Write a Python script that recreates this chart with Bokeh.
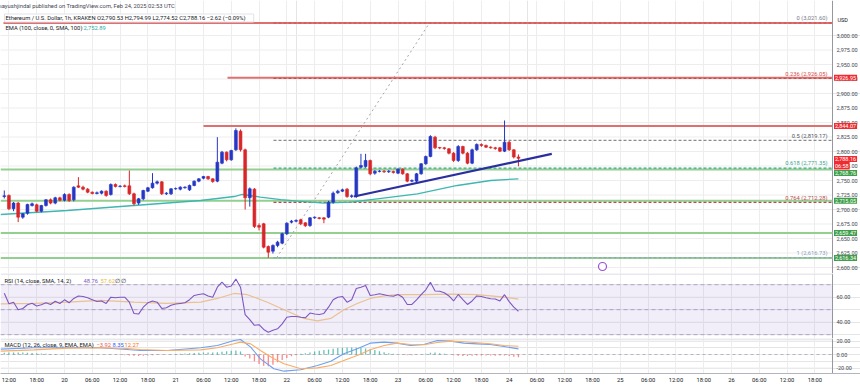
from bokeh.plotting import figure
from bokeh.models import (Range1d, FixedTicker, Label, LinearAxis, Grid,
                          ColumnDataSource, BoxAnnotation)
from bokeh.layouts import column
from bokeh.embed import file_html
from bokeh.resources import INLINE

# ---------------- data ----------------
# hours since Feb 20 00:00 UTC, 1h candles
hours = list(range(-13, 99))
opens = [2722.4, 2724.2, 2701.2, 2711.0, 2686.8, 2693.7, 2706.9, 2708.1, 2697.1, 2706.9, 2716.7, 2711.0, 2720.1,
         2716.0, 2725.9, 2716.7, 2740.8, 2738.5, 2735.1, 2729.9, 2727.6, 2728.2, 2731.6,
         2725.9, 2743.1, 2739.7, 2740.8, 2740.8, 2727.0, 2711.0, 2718.4, 2731.6, 2737.4,
         2745.4, 2747.7, 2727.0, 2727.0, 2735.6, 2735.1, 2737.4, 2733.9, 2741.4, 2748.9,
         2754.0, 2756.9, 2752.9, 2748.9, 2779.9, 2798.9, 2785.6, 2802.9, 2835.1, 2802.9,
         2720.1, 2735.1, 2672.4, 2675.3, 2636.2, 2628.2, 2638.0, 2642.0, 2658.1, 2678.2,
         2679.9, 2682.2, 2677.0, 2672.4, 2685.6, 2685.6, 2685.6, 2686.8, 2712.7, 2728.8,
         2731.6, 2735.1, 2722.4, 2722.4, 2773.0, 2774.2, 2784.5, 2762.7, 2765.5, 2766.1,
         2765.0, 2765.5, 2762.7, 2769.6, 2761.5, 2748.9, 2748.9, 2761.5, 2778.8, 2791.4,
         2824.7, 2806.8, 2806.3, 2804.6, 2797.1, 2784.5, 2808.6, 2797.1, 2779.9, 2802.9,
         2812.1, 2810.4, 2807.5, 2806.3, 2806.3, 2800.6, 2816.1, 2802.9, 2790.53]
highs = [2732.8, 2726.0, 2713.0, 2713.0, 2694.0, 2710.0, 2712.0, 2710.0, 2708.0, 2718.0, 2719.0, 2722.0, 2722.0,
         2728.0, 2728.0, 2740.0, 2755.8, 2741.0, 2737.0, 2731.0, 2731.0, 2733.0, 2733.0,
         2745.0, 2745.0, 2742.0, 2743.0, 2767.3, 2729.0, 2720.0, 2734.0, 2739.0, 2762.7,
         2750.0, 2749.0, 2730.0, 2737.0, 2738.0, 2740.0, 2740.0, 2743.0, 2750.0, 2754.0,
         2758.0, 2758.0, 2754.0, 2824.7, 2801.0, 2800.0, 2803.0, 2840.0, 2838.0, 2805.0,
         2738.0, 2737.0, 2676.0, 2677.0, 2638.0, 2640.0, 2646.0, 2660.0, 2678.0, 2682.0,
         2683.0, 2684.0, 2678.0, 2687.0, 2688.0, 2687.0, 2687.0, 2715.0, 2731.0, 2734.0,
         2736.0, 2737.0, 2726.0, 2774.0, 2796.0, 2796.0, 2786.0, 2768.0, 2768.0, 2768.0,
         2768.0, 2767.0, 2771.0, 2771.0, 2763.0, 2752.0, 2763.0, 2780.0, 2793.0, 2828.0,
         2827.0, 2808.0, 2808.0, 2806.0, 2799.0, 2811.0, 2810.0, 2799.0, 2805.0, 2814.0,
         2814.0, 2812.0, 2809.0, 2808.0, 2808.0, 2853.5, 2818.0, 2804.0, 2794.99]
lows = [2719.0, 2699.0, 2697.0, 2678.2, 2684.0, 2691.0, 2705.0, 2695.0, 2695.0, 2705.0, 2709.0, 2709.0, 2714.0,
        2714.0, 2713.0, 2714.0, 2737.0, 2733.0, 2728.0, 2726.0, 2726.0, 2726.0, 2722.0,
        2724.0, 2738.0, 2738.0, 2738.0, 2725.0, 2707.0, 2708.0, 2716.0, 2730.0, 2736.0,
        2743.0, 2725.0, 2725.0, 2725.0, 2734.0, 2733.0, 2736.0, 2732.0, 2740.0, 2747.0,
        2752.0, 2751.0, 2746.0, 2747.0, 2778.0, 2783.0, 2784.0, 2801.0, 2800.0, 2700.0,
        2705.0, 2668.0, 2664.0, 2633.0, 2616.7, 2624.0, 2635.0, 2640.0, 2656.0, 2676.0,
        2678.0, 2673.0, 2670.0, 2670.0, 2684.0, 2683.0, 2676.4, 2685.0, 2710.0, 2727.0,
        2730.0, 2720.0, 2720.0, 2720.0, 2771.0, 2772.0, 2759.0, 2760.0, 2764.0, 2763.0,
        2763.0, 2762.0, 2761.0, 2760.0, 2747.0, 2747.0, 2747.0, 2760.0, 2777.0, 2790.0,
        2804.0, 2804.0, 2803.0, 2795.0, 2782.0, 2782.0, 2795.0, 2778.0, 2778.0, 2801.0,
        2808.0, 2806.0, 2805.0, 2803.0, 2799.0, 2799.0, 2801.0, 2788.0, 2774.52]
closes = [2723.6, 2701.2, 2711.0, 2686.8, 2692.5, 2708.6, 2709.8, 2697.1, 2706.9, 2716.7, 2711.0, 2720.1, 2716.0,
          2725.9, 2715.5, 2738.5, 2738.5, 2735.1, 2729.9, 2727.6, 2728.8, 2731.6, 2724.2,
          2743.1, 2739.7, 2740.2, 2739.7, 2727.0, 2709.8, 2718.4, 2732.8, 2737.4, 2745.4,
          2747.7, 2727.0, 2728.2, 2735.6, 2736.2, 2738.5, 2738.5, 2741.4, 2748.9, 2752.9,
          2756.9, 2752.9, 2748.3, 2781.6, 2798.9, 2785.6, 2801.7, 2836.2, 2802.9, 2720.1,
          2735.6, 2670.7, 2669.6, 2635.1, 2626.5, 2638.0, 2643.7, 2658.1, 2676.4, 2679.9,
          2681.1, 2675.3, 2672.0, 2685.6, 2686.8, 2684.5, 2683.4, 2712.7, 2728.2, 2731.6,
          2733.9, 2722.4, 2723.6, 2771.9, 2775.9, 2784.5, 2761.5, 2766.1, 2766.1, 2765.0,
          2766.1, 2763.8, 2769.6, 2761.5, 2748.9, 2750.0, 2761.5, 2778.8, 2791.4, 2825.9,
          2806.3, 2806.0, 2805.2, 2797.1, 2784.5, 2808.6, 2797.1, 2779.9, 2802.9, 2812.1,
          2810.4, 2807.5, 2806.3, 2805.2, 2800.6, 2816.1, 2802.9, 2790.53, 2788.16]

ema_h = [-13.8, 0.6, 15, 29.4, 36.6, 38.4, 42.3, 46.7, 50.3, 56, 61.8, 67.5, 76.2, 84.8, 92, 98]
ema = [2691.4, 2698.3, 2706.9, 2715.5, 2722.4, 2725.9, 2721.3, 2717.0, 2714.4, 2711.0, 2712.7,
       2718.4, 2727.0, 2741.4, 2750.0, 2752.89]

rsi = [63.2, 54.7, 56.0, 50.0, 51.0, 54.0, 55.2, 53.0, 54.0, 55.5, 54.2, 56.8, 55.0,
       57.9, 55.5, 59.0, 61.0, 60.6, 59.5, 58.0, 56.5, 57.0, 55.0,
       60.0, 59.5, 60.0, 60.0, 56.0, 47.0, 46.5, 52.0, 55.5, 57.0,
       56.0, 51.0, 51.5, 53.5, 54.5, 55.0, 55.5, 58.0, 61.4, 62.2,
       62.7, 61.0, 60.0, 68.0, 72.0, 68.0, 69.0, 74.5, 68.0, 46.0,
       42.0, 37.5, 38.0, 34.2, 32.0, 33.6, 34.7, 38.7, 44.0, 44.6,
       44.6, 44.0, 43.5, 47.3, 46.5, 46.2, 47.0, 52.0, 57.9, 60.0,
       60.6, 56.0, 58.0, 67.0, 68.0, 69.4, 61.4, 62.0, 62.7, 62.0,
       61.2, 60.8, 62.2, 60.0, 54.2, 54.2, 57.9, 62.0, 65.9, 72.0,
       65.0, 64.8, 63.5, 61.0, 57.0, 62.2, 58.0, 54.2, 57.0, 61.0,
       60.5, 59.5, 58.7, 58.5, 57.0, 62.0, 56.5, 52.0, 48.76]
rsi_ma_h = [-13.8, -6.6, 0.6, 7.8, 15, 22, 29.4, 33, 36.6, 39.5, 43.8, 47.4, 51.7, 54.6, 57.5,
            60.3, 63.2, 66, 69, 71.8, 77.6, 83.4, 89, 95, 98]
rsi_ma = [54.7, 55, 56, 57.5, 56, 55, 56, 59, 63, 62, 56, 50, 43, 41, 43,
          50, 55, 59, 61, 62, 62, 62.5, 62, 60, 58.5]

macd_h = [-13.8, -6.6, 0.6, 7.8, 13.5, 16.4, 22.2, 29.4, 33, 36.6, 38, 40.2, 42.3, 45.2, 47.4, 51,
          54.6, 57.5, 60.3, 63.2, 66, 69, 71.8, 74.7, 77.6, 80.5, 83.4, 86.2, 89.1, 91.9, 94.9, 98]
macd = [8, 9.9, 9.9, 9.9, 7.5, 5.9, 5.9, 9.9, 13.3, 20.7, 22.2, 10.9, -6.4, -21.2, -24.7, -22.7,
        -16.3, -9.9, 1, 8.4, 16.8, 18.3, 16.8, 13.3, 14.8, 20.7, 19.8, 16.8, 15.8, 14.8, 11.9, 8.35]
signal = [5, 6.9, 9.5, 9.9, 9, 7.4, 5.9, 6.9, 9.9, 15.8, 18.3, 15.8, 5.9, -6.4, -13.8, -21.2,
          -19.8, -16.3, -8.9, -1.5, 6.9, 13.3, 16.8, 14.8, 14.5, 17.8, 19.8, 19.0, 17.5, 16.0, 13.3, 12.27]
hist = [2.5, 2.8, 3.0, 3.0, 2.8, 2.5, 2.2, 2.0, 1.6, 1.2, 0.9, 0.6, 0.4,
        0.3, 0.2, 0.1, 0.0, -0.1, -0.2, -0.2, -0.1, 0.0, -0.2, -0.3, -0.5, -0.8,
        -1.2, -1.5, -2.0, -2.2, -2.0, -1.6, -1.2, -0.8, -0.4, 0.0,
        0.4, 0.8, 1.2, 1.6, 2.0, 2.4, 2.6, 2.8, 3.0, 3.0,
        3.4, 4.2, 4.8, 5.5, 6.0, 4.5,
        -3.0, -6.0, -10.0, -14.0, -16.5, -17.5, -15.0, -11.5, -8.0, -5.0, -2.5, -1.0,
        1.0, 2.0, 3.0, 4.5, 5.5, 6.5, 7.5, 8.5, 9.5, 10.0, 10.5, 10.5, 10.0, 9.5, 9.0,
        8.0, 6.5, 5.0, 3.5, 2.0, 1.0, 0.0,
        -0.8, -1.2, -1.0, -0.4, 0.3, 1.2, 2.5,
        2.8, 2.0, 1.0, 0.0, -1.0, -1.8, -2.2,
        -2.2, -1.8, -1.5, -1.5, -1.4, -1.5, -1.8, -1.4, -1.6, -2.4, -3.2, -3.92]

fib_levels = ["0", "0.236", "0.5", "0.618", "0.764", "1"]
fib_prices = [3021.60, 2926.05, 2819.17, 2771.35, 2712.28, 2616.73]
hline_prices = [3021.60, 2926.95, 2844.07, 2768.76, 2715.05, 2659.47, 2616.34]
diag_h = [45.8, 78.8]
diag_p = [2616.73, 3021.60]
trend_h = [62.5, 105.2]
trend_p = [2722.4, 2796.0]

price_ticks = list(range(2600, 3001, 25))
rsi_ticks = [40, 60]
macd_ticks = [-20, 0, 20]
time_ticks = list(range(-12, 163, 6))
time_labels = ["12:00", "18:00", "20", "06:00", "12:00", "18:00", "21", "06:00", "12:00", "18:00",
               "22", "06:00", "12:00", "18:00", "23", "06:00", "12:00", "18:00", "24", "06:00",
               "12:00", "18:00", "25", "06:00", "12:00", "18:00", "26", "06:00", "12:00", "18:00"]

last_o, last_h, last_l, last_c = 2790.53, 2794.99, 2774.52, 2788.16
last_chg, last_pct = -2.62, -0.09
ema_last = 2752.89
rsi_last, rsi_ma_last = 48.76, 57.62
macd_last, signal_last, hist_last = 8.35, 12.27, -3.92
countdown = "06:58"

# ---------------- layout helpers (screen px of the 860x387 picture) ----------------
PXH = 4.632
def hx(sx): return (sx - 64.0) / PXH
def py(sy): return 3000.0 - (sy - 35.0) / 0.58
def ry(sy): return 40.0 + (321.7 - sy) / 1.25
def my(sy): return (354.0 - sy) / 0.675

FONT = "Roboto"
GRID = "#ededed"
AXIS = "#9598a1"
UP, DOWN = "#2537c4", "#d8262a"
RED_LINE, GREEN_LINE = "#e07070", "#93cf8f"
RED_BOX, GREEN_BOX = "#ef2b30", "#3f9e4a"
XE = hx(832)          # right edge of the drawing area (price scale starts here)
XL = hx(0)

xr = Range1d(hx(0), hx(860))


def lab(f, x, y, text, color="#131722", size="5.8px", align="left", bg=None, border=None,
        style="normal", pad=0):
    kw = {}
    if bg is not None:
        kw["background_fill_color"] = bg
    if border is not None:
        kw["border_line_color"] = border
    f.add_layout(Label(x=x, y=y, text=text, text_color=color, text_font=FONT,
                       text_font_size=size, text_align=align, text_baseline="middle",
                       text_font_style=style, padding=pad, **kw))


def mkfig(height, yr, ticks, fmt, ylo, yhi, bottom=0):
    f = figure(width=860, height=height, x_range=xr, y_range=yr, output_backend="svg",
               toolbar_location=None, x_axis_location=None, y_axis_location=None,
               min_border_left=0, min_border_right=0, min_border_top=0,
               min_border_bottom=bottom)
    f.outline_line_color = None
    f.background_fill_color = "white"
    f.border_fill_color = "white"
    f.add_layout(Grid(dimension=0, ticker=FixedTicker(ticks=time_ticks), grid_line_color=GRID))
    f.segment(x0=[XL] * len(ticks), y0=ticks, x1=[XE] * len(ticks), y1=ticks,
              line_color=GRID, line_width=1)
    # price-scale border
    f.segment(x0=[XE], y0=[ylo], x1=[XE], y1=[yhi], line_color=AXIS, line_width=1)
    for t in ticks:
        lab(f, hx(836), t, fmt(t), color="#434651", size="5.5px")
    return f


def money(v):
    return f"{v:,.2f}"


# ---------------- price pane ----------------
PLO, PHI = py(273), py(0)
p = mkfig(273, Range1d(PLO, PHI), price_ticks, money, PLO, PHI)

# user horizontal levels
hl_start = [hx(3), hx(227), hx(203), XL, XL, XL, XL]
hl_col = [RED_LINE, RED_LINE, RED_LINE, GREEN_LINE, GREEN_LINE, GREEN_LINE, GREEN_LINE]
p.segment(x0=hl_start, y0=hline_prices, x1=[XE] * len(hline_prices), y1=hline_prices,
          line_color=hl_col, line_width=2)

# fib retracement levels
fib_col = ["#c94f4f", "#c94f4f", "#8a8a8a", "#3aa58c", "#b44a4a", "#8da0bf"]
p.segment(x0=[hx(273)] * 6, y0=fib_prices, x1=[XE] * 6, y1=fib_prices,
          line_color=fib_col, line_width=1.1, line_dash="3 2")
p.line(diag_h, diag_p, line_color="#a5a5a5", line_width=1, line_dash="2 3")

# EMA 100
p.line(ema_h, ema, line_color="#3fb6b2", line_width=1.3)

# candles
cols = [UP if c >= o else DOWN for o, c in zip(opens, closes)]
src = ColumnDataSource(dict(h=hours, o=opens, hi=highs, lo=lows, c=closes,
                            top=[max(o, c) for o, c in zip(opens, closes)],
                            bot=[min(o, c) for o, c in zip(opens, closes)], col=cols))
p.segment("h", "hi", "h", "lo", source=src, line_color="col", line_width=1)
p.vbar(x="h", width=0.62, top="top", bottom="bot", source=src, fill_color="col",
       line_color="col", line_width=0.6)

# trendline
p.line(trend_h, trend_p, line_color="#2b2f9e", line_width=2.2)

# events marker
p.scatter([hx(602)], [py(266)], marker="circle", size=8, fill_color="white",
          line_color="#9c4fd6", line_width=1.2)

# fib labels
for lv, fp, c in zip(fib_levels, fib_prices, ["#787b86", "#d24b4b", "#50535e", "#3aa58c", "#b44a4a", "#8da0bf"]):
    lab(p, hx(827), fp + 8, f"{lv} ({fp:,.2f})", color=c, align="right")

# price-scale boxes
box_x = hx(833.5)
for price, ypos, col in [(2926.95, 2926.95, RED_BOX), (2844.07, 2844.07, RED_BOX),
                         (2768.76, py(172.5), GREEN_BOX), (2715.05, 2715.05, GREEN_BOX),
                         (2659.47, 2659.47, GREEN_BOX), (2616.34, 2616.34, GREEN_BOX)]:
    lab(p, box_x, ypos, money(price), color="white", size="5.5px", bg=col, pad=1)
lab(p, box_x, py(158.5), money(last_c), color="white", size="5.5px", bg=RED_BOX, pad=1)
lab(p, box_x, py(165), countdown, color="white", size="5.5px", bg=RED_BOX, pad=1)
lab(p, hx(837), py(19), "USD", color="#131722", size="5.5px")

# header texts
lab(p, hx(-2), py(5), "aayushjindal published on TradingView.com, Feb 24, 2025 02:53 UTC",
    color="#434651")
legend = (f"Ethereum / U.S. Dollar, 1h, KRAKEN  O{money(last_o)}  H{money(last_h)}  "
          f"L{money(last_l)}  C{money(last_c)}  \u2212{abs(last_chg):.2f} (\u2212{abs(last_pct):.2f}%)")
lab(p, hx(4), py(17.5), legend, color="#131722", bg="white", border="#e0e3eb", pad=1)
lab(p, hx(5), py(27.5), "EMA (100, close, 0, SMA, 100)", color="#131722")
lab(p, hx(83), py(27.5), money(ema_last), color="#2fa9a5")

# ---------------- RSI pane ----------------
RLO, RHI = ry(338), ry(273)
r = mkfig(65, Range1d(RLO, RHI), rsi_ticks, lambda v: f"{v:.2f}", RLO, RHI)
r.add_layout(BoxAnnotation(bottom=30, top=70, right=XE, fill_color="#7e57c2", fill_alpha=0.1,
                           line_color=None))
r.segment(x0=[XL] * 3, y0=[70, 50, 30], x1=[XE] * 3, y1=[70, 50, 30], line_color="#9b8fb8",
          line_alpha=0.7, line_dash="4 3", line_width=1)
r.segment(x0=[XL], y0=[ry(273.5)], x1=[XE], y1=[ry(273.5)], line_color="#d1d4dc", line_width=1)
r.line(rsi_ma_h, rsi_ma, line_color="#f3c97f", line_width=1.2, line_alpha=0.9)
r.line(hours, rsi, line_color="#7e57c2", line_width=1.1)
lab(r, hx(4), ry(280), "RSI (14, close, SMA, 14, 2)")
lab(r, hx(83), ry(280), f"{rsi_last:.2f}", color="#7e57c2")
lab(r, hx(100), ry(280), f"{rsi_ma_last:.2f}", color="#e8b93c")
lab(r, hx(114), ry(280), "\u2205", color="#131722")
lab(r, hx(120), ry(280), "\u2205", color="#131722")

# ---------------- MACD pane ----------------
MLO, MHI = my(373), my(338)
m = mkfig(49, Range1d(MLO, MHI), macd_ticks, lambda v: f"{v:.2f}", MLO, MHI, bottom=14)
m.segment(x0=[XL], y0=[my(338.5)], x1=[XE], y1=[my(338.5)], line_color="#d1d4dc", line_width=1)
m.segment(x0=[XL], y0=[0], x1=[XE], y1=[0], line_color="#b2b5be", line_dash="3 3", line_width=1)
hcols = ["#26a69a" if v >= 0 else "#ff5252" for v in hist]
m.vbar(x=hours, width=0.28, top=hist, bottom=0, fill_color=hcols, line_color=None, fill_alpha=0.7)
m.line(macd_h, macd, line_color="#6f9ff0", line_width=1.1)
m.line(macd_h, signal, line_color="#f6ad68", line_width=1.1)
lab(m, hx(4), my(344.5), "MACD (12, 26, close, 9, EMA, EMA)")
lab(m, hx(96), my(344.5), f"\u2212{abs(hist_last):.2f}", color="#ef5350")
lab(m, hx(112), my(344.5), f"{macd_last:.2f}", color="#2962ff")
lab(m, hx(124), my(344.5), f"{signal_last:.2f}", color="#ff6d00")

bx = LinearAxis(ticker=FixedTicker(ticks=time_ticks),
                major_label_overrides={t: s for t, s in zip(time_ticks, time_labels)},
                major_tick_out=0, major_tick_in=0, minor_tick_out=0, minor_tick_in=0,
                major_label_standoff=3, axis_line_color="#b2b5be",
                major_label_text_font=FONT, major_label_text_font_size="5.8px",
                major_label_text_color="#131722")
m.add_layout(bx, "below")

layout = column(p, r, m, spacing=0)
open("out.html", "w").write(file_html(layout, INLINE))
